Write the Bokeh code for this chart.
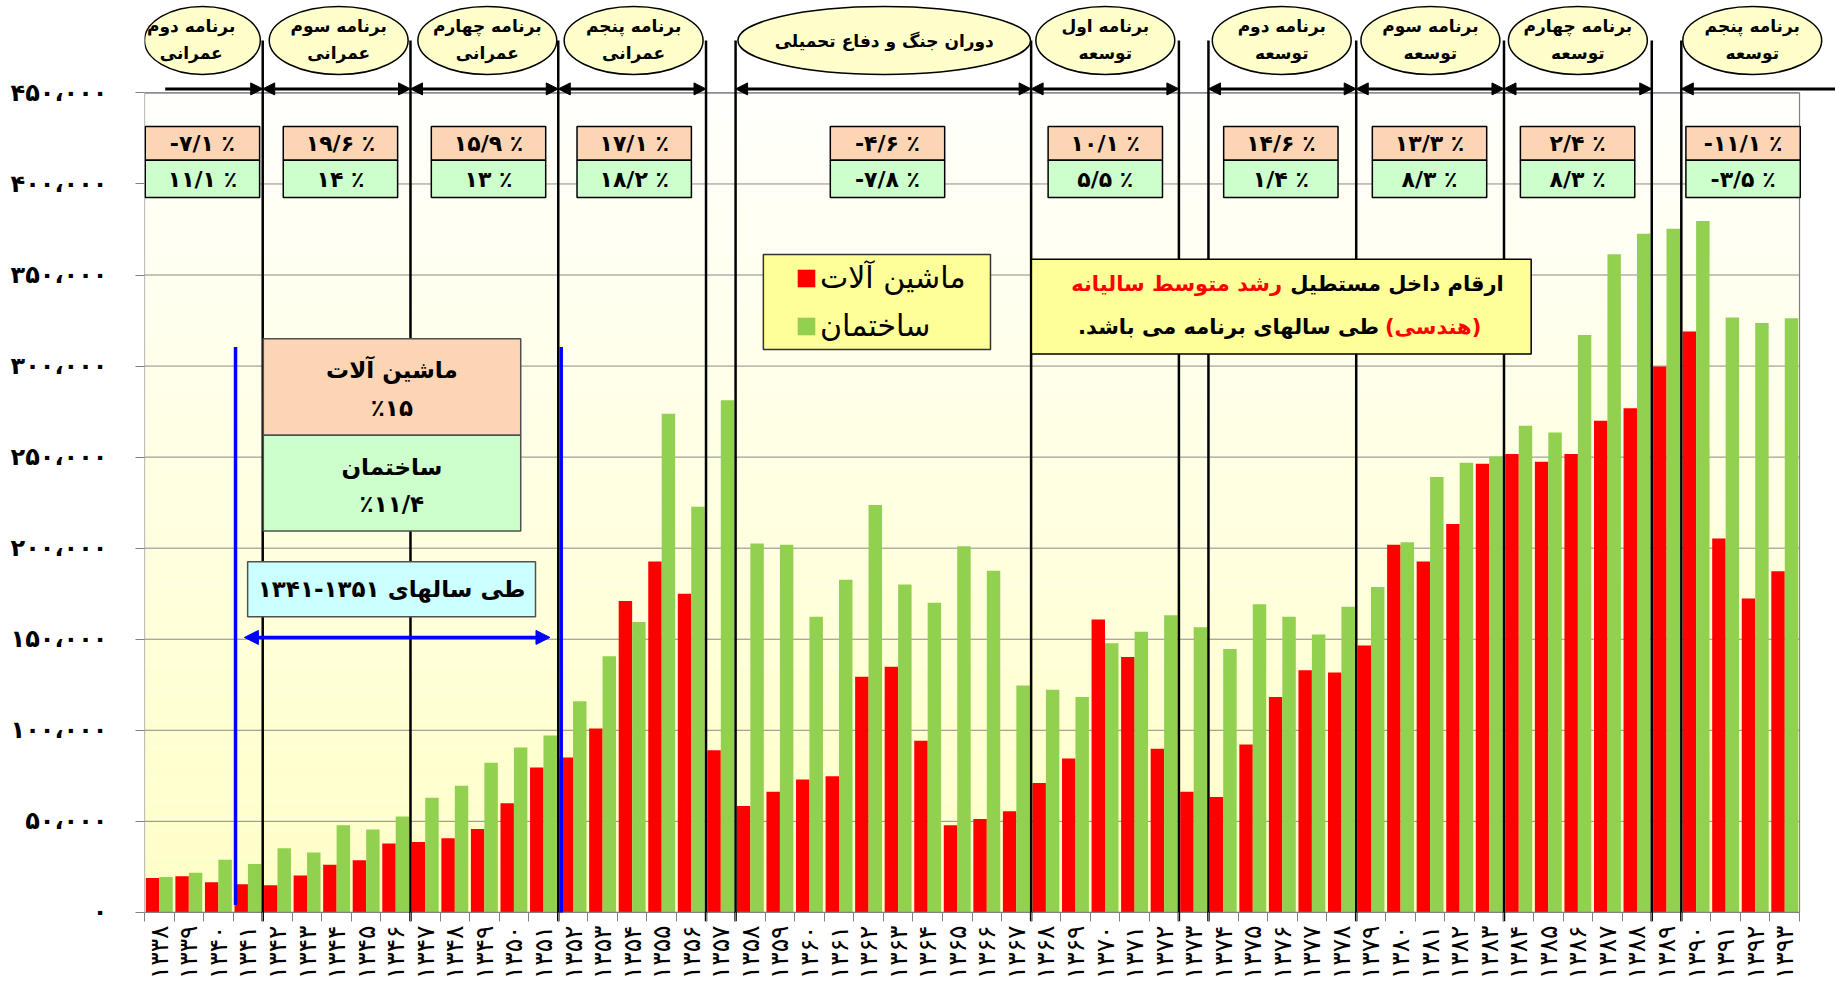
import math
from bokeh.plotting import figure
from bokeh.models import (Range1d, FixedTicker, ColumnDataSource, Arrow, NormalHead,
                          Legend, LegendItem)
from bokeh.transform import dodge
from bokeh.core.properties import value
from bokeh.embed import file_html
from bokeh.resources import INLINE

# ---------------- data ----------------
years = list(range(1338, 1394))
machinery = [18900, 19800, 16600, 15500, 14900, 20300, 26100, 28600, 37800, 38700,
             40700, 45800, 59900, 79600, 85100, 101000, 171000, 192700, 175000, 89000,
             58400, 66200, 73000, 74700, 129400, 134900, 94200, 47800, 51300, 55600,
             71000, 84500, 160900, 140300, 89900, 66200, 63300, 92200, 118300, 132900,
             131700, 146600, 201900, 192700, 213300, 246300, 251700, 247400, 251700, 270000,
             276900, 299800, 319000, 205300, 172400, 187300]
construction = [19500, 21800, 28900, 26600, 35200, 32900, 47800, 45500, 52700, 63000,
                69600, 82200, 90500, 97100, 116000, 140600, 159500, 273800, 222800, 281200,
                202500, 201900, 162400, 182700, 223700, 180100, 170100, 201000, 187600, 124600,
                122300, 118300, 147800, 154100, 163200, 156600, 144600, 169200, 162400, 152600,
                167800, 178700, 203300, 239100, 246900, 250300, 267200, 263500, 317000, 361400,
                372600, 375400, 379700, 326700, 323600, 326200]
y_ticks = [0, 50000, 100000, 150000, 200000, 250000, 300000, 350000, 400000, 450000]

series_names = ["ماشین آلات", "ساختمان"]
program_line1 = ["برنامه دوم", "برنامه سوم", "برنامه چهارم", "برنامه پنجم",
                 "دوران جنگ و دفاع تحمیلی", "برنامه اول", "برنامه دوم", "برنامه سوم",
                 "برنامه چهارم", "برنامه پنجم"]
program_line2 = ["عمرانی", "عمرانی", "عمرانی", "عمرانی", "",
                 "توسعه", "توسعه", "توسعه", "توسعه", "توسعه"]
machinery_growth = [-7.1, 19.6, 15.9, 17.1, -4.6, 10.1, 14.6, 13.3, 2.4, -11.1]
construction_growth = [11.1, 14, 13, 18.2, -7.8, 5.5, 1.4, 8.3, 8.3, -3.5]

period_texts = ["ماشین آلات", "٪۱۵", "ساختمان", "٪۱۱/۴"]
period_caption = "طی سالهای ۱۳۵۱-۱۳۴۱"
note_line1 = ["ارقام داخل مستطیل", "رشد متوسط سالیانه"]
note_line2 = ["(هندسی)", "طی سالهای برنامه می باشد.\u200f"]

# ---------------- layout (annotation positions) ----------------
separators = [1341.5, 1346.5, 1351.5, 1356.5, 1357.5, 1367.5, 1372.5, 1373.5,
              1378.5, 1383.5, 1388.5, 1389.5]
ell_x = [1339.46, 1344.07, 1349.1, 1354.05, 1362.53, 1370.01, 1375.98, 1381.01, 1386.0, 1391.9]
ell_w = [3.92, 4.7, 4.7, 4.7, 9.9, 4.7, 4.7, 4.7, 4.7, 4.7]
txt_x = [1339.08, 1344.07, 1349.1, 1354.05, 1362.53, 1370.01, 1375.98, 1381.01, 1386.0, 1391.9]
box_x = [1339.46, 1344.13, 1349.14, 1354.07, 1362.64, 1370.01, 1375.95, 1380.98, 1385.99, 1391.59]
arrow_both_start = [1341.5, 1346.5, 1351.5, 1357.5, 1367.5, 1373.5, 1378.5, 1383.5]
arrow_both_end = [1346.5, 1351.5, 1356.5, 1367.5, 1372.5, 1378.5, 1383.5, 1388.5]
X_LEFT, X_RIGHT, X_END = 1337.5, 1393.5, 1394.717

FA = str.maketrans("0123456789", "۰۱۲۳۴۵۶۷۸۹")


def fa(s):
    return str(s).translate(FA)


def fa_pct(v):
    s = fa(("%g" % abs(v)).replace(".", "/"))
    return ("-" if v < 0 else "") + s + " ٪"


FONT = "DejaVu Sans"

p = figure(width=1835, height=998,
           x_range=Range1d(X_LEFT, X_END), y_range=Range1d(-5000, 500740),
           output_backend="svg", toolbar_location=None,
           min_border_left=144, min_border_right=0, min_border_top=0, min_border_bottom=77,
           background_fill_color="white", border_fill_color="white", outline_line_color=None)
p.xgrid.visible = False
p.ygrid.visible = False

# background gradient inside the chart frame
n_b = 30
b_bot, b_top, b_col = [], [], []
for i in range(n_b):
    t = i / (n_b - 1)
    b_bot.append(450000 * i / n_b)
    b_top.append(450000 * (i + 1) / n_b)
    b_col.append("#%02x%02x%02x" % (255, 255, int(200 + 52 * t)))
p.quad(left=X_LEFT, right=X_RIGHT, bottom=b_bot, top=b_top, fill_color=b_col, line_color=None)

# gridlines
grid_src = ColumnDataSource(dict(y=y_ticks[1:]))
p.segment(x0=X_LEFT, x1=X_RIGHT, y0="y", y1="y", source=grid_src, line_color="#8a8a8a", line_width=1)

# bars
src = ColumnDataSource(dict(year=years, machinery=machinery, construction=construction))
r_red = p.vbar(x=dodge("year", -0.2275, range=p.x_range), top="machinery", width=0.455,
               bottom=0, source=src, fill_color="#FF0000", line_color=None)
r_green = p.vbar(x=dodge("year", 0.2275, range=p.x_range), top="construction", width=0.455,
                 bottom=0, source=src, fill_color="#92D050", line_color=None)

# frame
p.quad(left=X_LEFT, right=X_RIGHT, bottom=0, top=450000, fill_color=None,
       line_color="#808080", line_width=1.2)

# program separators
sep_src = ColumnDataSource(dict(x=separators))
p.segment(x0="x", x1="x", y0=-5000, y1=478800, source=sep_src, line_color="black", line_width=2.5)

# ellipses with program names
ell_src = ColumnDataSource(dict(x=ell_x, w=ell_w))
p.ellipse(x="x", y=478800, width="w", height=37300, source=ell_src,
          fill_color="#FFFFCC", line_color="black", line_width=1.5)
two = [i for i in range(10) if program_line2[i]]
one = [i for i in range(10) if not program_line2[i]]
p.text(x=[txt_x[i] for i in two], y=486900, text=[program_line1[i] for i in two],
       text_font=value(FONT), text_font_style="bold", text_font_size="17px",
       text_align="center", text_baseline="middle")
p.text(x=[txt_x[i] for i in two], y=471700, text=[program_line2[i] for i in two],
       text_font=value(FONT), text_font_style="bold", text_font_size="17px",
       text_align="center", text_baseline="middle")
p.text(x=[txt_x[i] for i in one], y=478500, text=[program_line1[i] for i in one],
       text_font=value(FONT), text_font_style="bold", text_font_size="17px",
       text_align="center", text_baseline="middle")

# program arrows
head = dict(size=12, fill_color="black", line_color="black")
both_src = ColumnDataSource(dict(xs=arrow_both_start, xe=arrow_both_end))
p.add_layout(Arrow(start=NormalHead(**head), end=NormalHead(**head), x_start="xs", x_end="xe",
                   y_start=452200, y_end=452200, source=both_src, line_width=3, line_color="black"))
p.add_layout(Arrow(start=None, end=NormalHead(**head), x_start=1338.2, x_end=1341.5,
                   y_start=452200, y_end=452200, line_width=3, line_color="black"))
p.add_layout(Arrow(start=NormalHead(**head), end=None, x_start=1389.5, x_end=X_END,
                   y_start=452200, y_end=452200, line_width=3, line_color="black"))

# growth boxes
gb_src = ColumnDataSource(dict(x=box_x, l=[b - 1.935 for b in box_x], r=[b + 1.935 for b in box_x],
                               m=[fa_pct(v) for v in machinery_growth],
                               c=[fa_pct(v) for v in construction_growth]))
p.quad(left="l", right="r", bottom=413000, top=431500, source=gb_src,
       fill_color="#FCD5B4", line_color="black", line_width=1.5)
p.quad(left="l", right="r", bottom=392500, top=413000, source=gb_src,
       fill_color="#CCFFCC", line_color="black", line_width=1.5)
p.text(x="x", y=422000, text="m", source=gb_src, text_font=value(FONT), text_font_style="bold",
       text_font_size="22px", text_align="center", text_baseline="middle")
p.text(x="x", y=402500, text="c", source=gb_src, text_font=value(FONT), text_font_style="bold",
       text_font_size="22px", text_align="center", text_baseline="middle")

# 1341-1351 annotation
p.segment(x0=[1340.58, 1351.6], x1=[1340.58, 1351.6], y0=[4000, 0], y1=310500,
          line_color="#0000FF", line_width=3.5)
p.quad(left=1341.52, right=1350.23, bottom=[262000, 209400], top=[315000, 262000],
       fill_color=["#FCD5B4", "#CCFFCC"], line_color="#505050", line_width=1.5)
p.text(x=1345.87, y=[298000, 277100, 244500, 224000], text=period_texts,
       text_font=value(FONT), text_font_style="bold", text_font_size="23px",
       text_align="center", text_baseline="middle")
p.quad(left=1340.99, right=1350.73, bottom=162400, top=192600, fill_color="#CCFFFF",
       line_color="#505050", line_width=1.5)
p.text(x=1345.86, y=177500, text=[period_caption], text_font=value(FONT),
       text_font_size="23px", text_font_style="bold", text_align="center", text_baseline="middle")
bhead = dict(size=14, fill_color="#0000FF", line_color="#0000FF")
p.add_layout(Arrow(start=NormalHead(**bhead), end=NormalHead(**bhead), x_start=1340.88, x_end=1351.22,
                   y_start=151000, y_end=151000, line_width=3.5, line_color="#0000FF"))

# note box
p.quad(left=1367.51, right=1384.42, bottom=306600, top=358600, fill_color="#FFFF99",
       line_color="black", line_width=1.5)
p.text(x=[1376.27], y=345100, text=[note_line1[0]], text_font=value(FONT), text_font_style="bold",
       text_font_size="21px", text_align="left", text_baseline="middle", text_color="black")
p.text(x=[1375.99], y=345100, text=[note_line1[1]], text_font=value(FONT), text_font_style="bold",
       text_font_size="21px", text_align="right", text_baseline="middle", text_color="#FF0000")
p.text(x=[1379.47], y=321300, text=[note_line2[0]], text_font=value(FONT), text_font_style="bold",
       text_font_size="21px", text_align="left", text_baseline="middle", text_color="#FF0000")
p.text(x=[1379.27], y=321300, text=[note_line2[1]], text_font=value(FONT), text_font_style="bold",
       text_font_size="21px", text_align="right", text_baseline="middle", text_color="black")

# legend (box drawn behind, legend itself transparent)
p.quad(left=1358.44, right=1366.125, bottom=309100, top=361300, fill_color="#FFFF99",
       line_color="#333333", line_width=1.5)
legend = Legend(items=[LegendItem(label=series_names[0], renderers=[r_red]),
                       LegendItem(label=series_names[1], renderers=[r_green])],
                location=(651, 578), orientation="vertical",
                label_text_font=FONT, label_text_font_size="30px", label_text_color="black",
                glyph_width=22, glyph_height=22, label_standoff=3,
                label_height=34, padding=0, spacing=13,
                margin=0, background_fill_alpha=0, border_line_color=None)
p.add_layout(legend)

# axes
p.xaxis.ticker = FixedTicker(ticks=years, minor_ticks=[y - 0.5 for y in years] + [X_RIGHT])
p.xaxis.major_label_overrides = {y: fa(y) for y in years}
p.xaxis.major_label_orientation = math.pi / 2
p.xaxis.axis_line_color = None
p.xaxis.major_tick_line_color = None
p.xaxis.major_tick_in = 0
p.xaxis.major_tick_out = 0
p.xaxis.minor_tick_line_color = "#808080"
p.xaxis.minor_tick_in = 9
p.xaxis.minor_tick_out = 0
p.xaxis.major_label_standoff = 4
p.xaxis.major_label_text_font = FONT
p.xaxis.major_label_text_font_size = "25px"
p.xaxis.major_label_text_color = "black"

p.yaxis.ticker = FixedTicker(ticks=y_ticks)
p.yaxis.major_label_overrides = {v: fa(("{:,}".format(v)).replace(",", "،")) for v in y_ticks}
p.yaxis.axis_line_color = None
p.yaxis.major_tick_line_color = "#808080"
p.yaxis.major_tick_in = 0
p.yaxis.major_tick_out = 9
p.yaxis.minor_tick_line_color = None
p.yaxis.major_label_standoff = 28
p.yaxis.major_label_text_font = FONT
p.yaxis.major_label_text_font_style = "bold"
p.yaxis.major_label_text_font_size = "24px"
p.yaxis.major_label_text_color = "black"

open("out.html", "w").write(file_html(p, INLINE))
